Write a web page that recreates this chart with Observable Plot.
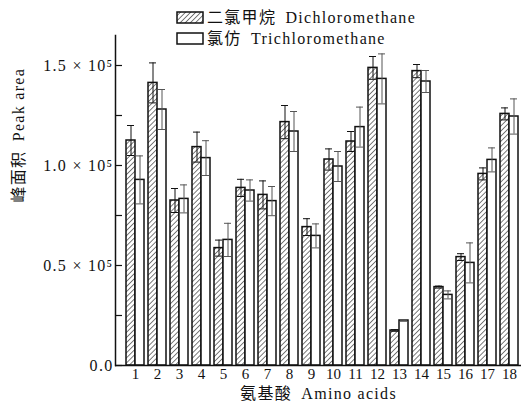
<!DOCTYPE html>
<html lang="zh-CN">
<head>
<meta charset="utf-8">
<script src="https://cdn.jsdelivr.net/npm/d3@7"></script>
<script src="https://cdn.jsdelivr.net/npm/@observablehq/plot@0.6"></script>
<style>
  html, body { margin: 0; padding: 0; background: #fff; }
  #wrap { position: relative; width: 523px; height: 407px; }
  #legend { position: absolute; left: 176px; top: 7px; font-family: "Liberation Serif", "DejaVu Serif", "Noto Sans CJK SC", serif; font-size: 16px; letter-spacing: 1.3px; color: #111; line-height: 21px; }
  #legend .row { display: flex; align-items: center; white-space: nowrap; }
  #legend svg { margin-right: 3px; }
</style>
</head>
<body>
<div id="wrap">
  <div id="chart"></div>
  <div id="legend"></div>
</div>
<script>
const aminoAcids = ["1","2","3","4","5","6","7","8","9","10","11","12","13","14","15","16","17","18"];
const dcmValues = [1.125,1.413,0.825,1.092,0.587,0.888,0.853,1.217,0.692,1.030,1.120,1.488,0.175,1.472,0.392,0.542,0.958,1.258];
const dcmErrors = [0.075,0.100,0.060,0.075,0.040,0.043,0.070,0.083,0.042,0.053,0.050,0.057,0.004,0.033,0.005,0.017,0.030,0.030];
const tcmValues = [0.928,1.280,0.833,1.037,0.628,0.875,0.822,1.170,0.648,0.995,1.192,1.433,0.225,1.420,0.353,0.513,1.028,1.245];
const tcmErrors = [0.120,0.100,0.070,0.087,0.083,0.053,0.073,0.100,0.060,0.075,0.100,0.125,0.004,0.055,0.020,0.100,0.060,0.088];
const yTicks = [0, 0.5, 1.0, 1.5];
const yMinorTicks = [0, 0.25, 0.5, 0.75, 1.0, 1.25, 1.5];
const seriesNames = ["二氯甲烷\u2002Dichloromethane", "氯仿\u2002Trichloromethane"];
const yLabel = "峰面积\u2002Peak area";
const xLabel = "氨基酸\u2002Amino acids";

const dcm = aminoAcids.map((a, i) => ({aa: a, v: dcmValues[i], lo: dcmValues[i] - dcmErrors[i], hi: dcmValues[i] + dcmErrors[i]}));
const tcm = aminoAcids.map((a, i) => ({aa: a, v: tcmValues[i], lo: tcmValues[i] - tcmErrors[i], hi: tcmValues[i] + tcmErrors[i]}));

const font = '"Liberation Serif", "DejaVu Serif", "Noto Sans CJK SC", serif';
const fmt = d => d === 0 ? "0.0" : d.toFixed(1) + " × 10\u2075";

const chart = Plot.plot({
  width: 523,
  height: 407,
  marginTop: 35,
  marginBottom: 42,
  marginLeft: 115,
  marginRight: 2,
  style: {fontFamily: font, fontSize: "15px", color: "#111", background: "#fff"},
  x: {type: "band", domain: aminoAcids, padding: 0, insetLeft: 8, insetRight: 1},
  y: {domain: [0, 1.65]},
  marks: [
    Plot.barY(dcm, {x: "aa", y: "v", fill: "url(#hatch)", stroke: "#111", strokeWidth: 1.5, insetLeft: 2, insetRight: 11}),
    Plot.barY(tcm, {x: "aa", y: "v", fill: "#fff", stroke: "#111", strokeWidth: 1.5, insetLeft: 11, insetRight: 2}),
    Plot.ruleX(dcm, {x: "aa", y1: "lo", y2: "hi", dx: -4.5, stroke: "#111", strokeWidth: 1}),
    Plot.tickY(dcm, {x: "aa", y: "hi", insetLeft: 3, insetRight: 12, stroke: "#111", strokeWidth: 1}),
    Plot.tickY(dcm, {x: "aa", y: "lo", insetLeft: 3, insetRight: 12, stroke: "#111", strokeWidth: 1}),
    Plot.ruleX(tcm, {x: "aa", y1: "lo", y2: "hi", dx: 4.5, stroke: "#555", strokeWidth: 1}),
    Plot.tickY(tcm, {x: "aa", y: "hi", insetLeft: 12, insetRight: 3, stroke: "#555", strokeWidth: 1}),
    Plot.tickY(tcm, {x: "aa", y: "lo", insetLeft: 12, insetRight: 3, stroke: "#555", strokeWidth: 1}),
    Plot.ruleY([0], {stroke: "#111", strokeWidth: 1.5}),
    Plot.frame({anchor: "left", stroke: "#111", strokeWidth: 1.5}),
    Plot.axisY(yMinorTicks, {tickSize: -7, text: null, stroke: "#111", strokeWidth: 1.2, label: null}),
    Plot.axisY(yTicks, {tickSize: 0, tickPadding: 2, tickFormat: fmt, label: null, fontSize: 16, fill: "#111"}),
    Plot.axisX({tickSize: 0, tickPadding: 3, label: null, fontSize: 15, fill: "#111"}),
    Plot.text([yLabel], {frameAnchor: "left", text: d => d, rotate: -90, dx: -97, dy: 2, fontSize: 16, fill: "#111"}),
    Plot.text([xLabel], {frameAnchor: "bottom", text: d => d, dy: 33, fontSize: 16, fill: "#111"})
  ]
});

const svg = d3.select(chart);
const defs = svg.insert("defs", ":first-child");
const pat = defs.append("pattern").attr("id", "hatch").attr("patternUnits", "userSpaceOnUse")
  .attr("width", 3.6).attr("height", 3.6).attr("patternTransform", "rotate(45)");
pat.append("rect").attr("width", 3.6).attr("height", 3.6).attr("fill", "#fff");
pat.append("line").attr("x1", 0).attr("y1", 0).attr("x2", 0).attr("y2", 3.6).attr("stroke", "#111").attr("stroke-width", 1.1);
// widen label text a little like the reference typesetting
svg.selectAll("[aria-label='text'] text, [aria-label='y-axis tick label'] text").style("letter-spacing", "1.3px");

document.getElementById("chart").appendChild(chart);

// legend
const legend = d3.select("#legend");
seriesNames.forEach((name, i) => {
  const row = legend.append("div").attr("class", "row");
  const s = row.append("svg").attr("width", 28).attr("height", 13);
  if (i === 0) {
    const d = s.append("defs").append("pattern").attr("id", "hatchL").attr("patternUnits", "userSpaceOnUse")
      .attr("width", 3.6).attr("height", 3.6).attr("patternTransform", "rotate(45)");
    d.append("rect").attr("width", 3.6).attr("height", 3.6).attr("fill", "#fff");
    d.append("line").attr("x1", 0).attr("y1", 0).attr("x2", 0).attr("y2", 3.6).attr("stroke", "#111").attr("stroke-width", 1.1);
  }
  s.append("rect").attr("x", 1).attr("y", 1).attr("width", 26).attr("height", 11)
    .attr("fill", i === 0 ? "url(#hatchL)" : "#fff").attr("stroke", "#111").attr("stroke-width", 1.5);
  row.append("span").text(name);
});
</script>
</body>
</html>
